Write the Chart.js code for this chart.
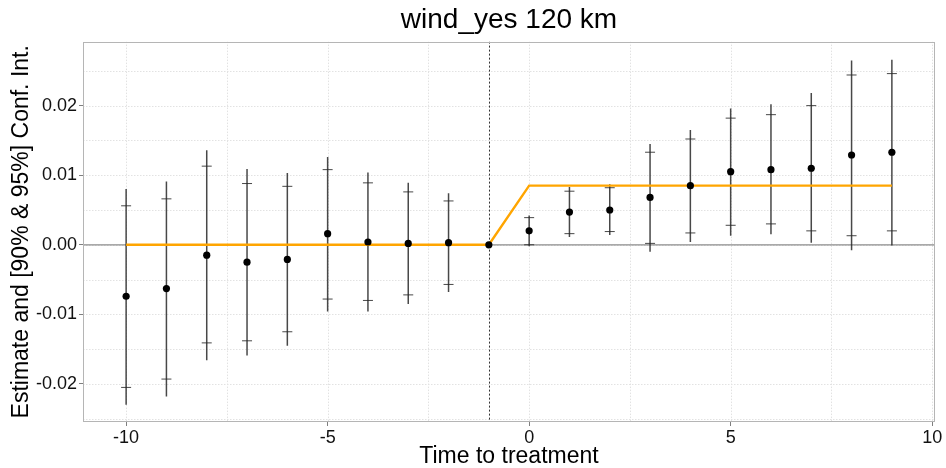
<!DOCTYPE html>
<html><head><meta charset="utf-8">
<script src="https://cdn.jsdelivr.net/npm/chart.js@4.4.0/dist/chart.umd.min.js"></script>
<style>html,body{margin:0;padding:0;background:#fff}#wrap{width:946px;height:468px;position:relative}</style>
</head><body><div id="wrap"><canvas id="c"></canvas></div>
<script>
// ---- data ----
const periods   = [-10, -9, -8, -7, -6, -5, -4, -3, -2, -1, 0, 1, 2, 3, 4, 5, 6, 7, 8, 9];
const estimate  = [-0.0074, -0.0063, -0.0015, -0.0025, -0.0021, 0.0016, 0.0004, 0.0002, 0.0003, 0.0000, 0.0020, 0.0047, 0.0050, 0.0068, 0.0085, 0.0105, 0.0108, 0.0110, 0.0129, 0.0133];
const ci90Low   = [-0.0205, -0.0193, -0.0141, -0.0138, -0.0125, -0.0078, -0.0080, -0.0072, -0.0057, null, 0.0000, 0.0016, 0.0019, 0.0002, 0.0017, 0.0028, 0.0030, 0.0020, 0.0013, 0.0020];
const ci90High  = [0.0056, 0.0066, 0.0113, 0.0088, 0.0084, 0.0108, 0.0089, 0.0076, 0.0063, null, 0.0039, 0.0077, 0.0082, 0.0133, 0.0152, 0.0182, 0.0187, 0.0200, 0.0244, 0.0246];
const ci95Low   = [-0.0230, -0.0218, -0.0166, -0.0159, -0.0145, -0.0096, -0.0096, -0.0085, -0.0068, null, -0.0002, 0.0011, 0.0014, -0.0010, 0.0004, 0.0013, 0.0015, 0.0003, -0.0008, -0.0001];
const ci95High  = [0.0080, 0.0091, 0.0136, 0.0109, 0.0103, 0.0126, 0.0104, 0.0089, 0.0074, null, 0.0042, 0.0083, 0.0087, 0.0145, 0.0165, 0.0196, 0.0202, 0.0218, 0.0265, 0.0266];
const treatX    = [-10, -1, 0, 9];
const treatY    = [0, 0, 0.0085, 0.0085];
const eventTime = -1;
const xTicks    = [-10, -5, 0, 5, 10];
const yTicks    = [-0.02, -0.01, 0.00, 0.01, 0.02];
const titleText = 'wind_yes 120 km';
const xTitle    = 'Time to treatment';
const yTitle    = 'Estimate and [90% & 95%] Conf. Int.';

const FONT = "'Liberation Sans', Arial, sans-serif";

function minorOf(ticks) {
  const out = [];
  const step = ticks[1] - ticks[0];
  out.push(ticks[0] - step / 2);
  for (let i = 0; i < ticks.length - 1; i++) out.push((ticks[i] + ticks[i + 1]) / 2);
  out.push(ticks[ticks.length - 1] + step / 2);
  return out;
}

const ggPlugin = {
  id: 'gg',
  beforeDatasetsDraw(chart) {
    const {ctx, chartArea: a, scales: {x, y}} = chart;
    ctx.save();
    ctx.beginPath(); ctx.rect(a.left, a.top, a.right - a.left, a.bottom - a.top); ctx.clip();
    // grid (major + minor), dotted
    ctx.strokeStyle = '#e2e2e2';
    ctx.lineWidth = 1;
    ctx.setLineDash([1.5, 1.5]);
    const xs = xTicks.concat(minorOf(xTicks));
    const ys = yTicks.concat(minorOf(yTicks));
    xs.forEach(v => { const px = Math.round(x.getPixelForValue(v)) + 0.5; ctx.beginPath(); ctx.moveTo(px, a.top); ctx.lineTo(px, a.bottom); ctx.stroke(); });
    ys.forEach(v => { const py = Math.round(y.getPixelForValue(v)) + 0.5; ctx.beginPath(); ctx.moveTo(a.left, py); ctx.lineTo(a.right, py); ctx.stroke(); });
    // zero line
    ctx.setLineDash([]);
    ctx.strokeStyle = '#8c8c8c';
    ctx.lineWidth = 1.2;
    const y0 = y.getPixelForValue(0);
    ctx.beginPath(); ctx.moveTo(a.left, y0); ctx.lineTo(a.right, y0); ctx.stroke();
    // vertical event line
    ctx.strokeStyle = '#333';
    ctx.lineWidth = 1;
    ctx.setLineDash([2, 2]);
    const xe = Math.round(x.getPixelForValue(eventTime)) + 0.5;
    ctx.beginPath(); ctx.moveTo(xe, a.top); ctx.lineTo(xe, a.bottom); ctx.stroke();
    ctx.setLineDash([]);
    // error bars
    ctx.strokeStyle = 'rgba(40,40,40,0.85)';
    periods.forEach((p, i) => {
      if (ci95Low[i] === null) return;
      const px = x.getPixelForValue(p);
      ctx.lineWidth = 1.5;
      ctx.beginPath();
      ctx.moveTo(px, y.getPixelForValue(ci95Low[i]));
      ctx.lineTo(px, y.getPixelForValue(ci95High[i]));
      ctx.stroke();
      ctx.lineWidth = 1;
      [ci90Low[i], ci90High[i]].forEach(v => {
        const py = y.getPixelForValue(v);
        ctx.beginPath(); ctx.moveTo(px - 5, py); ctx.lineTo(px + 5, py); ctx.stroke();
      });
    });
    ctx.restore();
  },
  afterDatasetsDraw(chart) {
    const {ctx, chartArea: a} = chart;
    ctx.save();
    ctx.strokeStyle = '#b5b5b5';
    ctx.lineWidth = 1;
    ctx.strokeRect(Math.round(a.left) + 0.5, Math.round(a.top) + 0.5, Math.round(a.right - a.left) - 1, Math.round(a.bottom - a.top) - 1);
    ctx.restore();
  }
};

new Chart(document.getElementById('c'), {
  type: 'scatter',
  data: {
    datasets: [
      {
        type: 'scatter',
        label: 'Estimate',
        data: periods.map((p, i) => ({x: p, y: estimate[i]})),
        backgroundColor: '#000', borderColor: '#000',
        pointRadius: 3.6, pointBorderWidth: 0,
        order: 0
      },
      {
        type: 'line',
        label: 'Treatment',
        data: treatX.map((v, i) => ({x: v, y: treatY[i]})),
        borderColor: '#FFA500', borderWidth: 2.4,
        pointRadius: 0, fill: false, tension: 0,
        order: 1
      }
    ]
  },
  options: {
    responsive: true, maintainAspectRatio: false, animation: false,
    layout: {padding: {left: 0, right: 11, top: 0, bottom: 0}},
    plugins: {
      legend: {display: false},
      tooltip: {enabled: false},
      title: {
        display: true, text: titleText, color: '#000', fullSize: false,
        font: {family: FONT, size: 28, weight: 'normal', lineHeight: 1.2},
        padding: {top: 3, bottom: 5}
      }
    },
    scales: {
      x: {
        type: 'linear', min: -11.07, max: 10.07,
        afterBuildTicks: s => { s.ticks = xTicks.map(v => ({value: v})); },
        afterFit: s => { s.height = 46; },
        grid: {display: true, drawOnChartArea: false, drawTicks: true, tickLength: 4, tickColor: '#7f7f7f', color: 'rgba(0,0,0,0)'},
        border: {display: false},
        ticks: {font: {family: FONT, size: 18}, color: '#111', padding: 1, maxRotation: 0, autoSkip: false, callback: v => String(v)},
        title: {display: true, text: xTitle, color: '#000', font: {family: FONT, size: 23, lineHeight: 1}, padding: {top: 0, bottom: 0}}
      },
      y: {
        type: 'linear', min: -0.02547, max: 0.0292,
        afterBuildTicks: s => { s.ticks = yTicks.map(v => ({value: v})); },
        afterFit: s => { s.width = 83; },
        grid: {display: true, drawOnChartArea: false, drawTicks: true, tickLength: 4, tickColor: '#7f7f7f', color: 'rgba(0,0,0,0)'},
        border: {display: false},
        ticks: {font: {family: FONT, size: 18}, color: '#111', padding: 2, autoSkip: false, callback: v => (Math.abs(v) < 1e-9 ? 0 : v).toFixed(2)},
        title: {display: true, text: yTitle, color: '#000', font: {family: FONT, size: 23, lineHeight: 1}, padding: {top: 10, bottom: 0}}
      }
    }
  },
  plugins: [ggPlugin]
});
</script>
</body></html>
